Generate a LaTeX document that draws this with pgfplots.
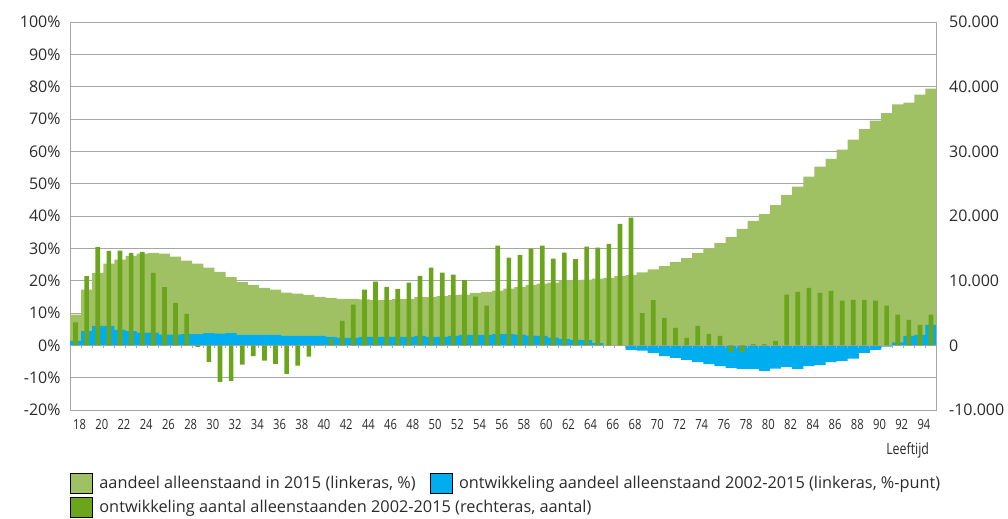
\documentclass[border=0pt]{standalone}
\usepackage{pgfplots}
\usepackage{pgfplotstable}
\pgfplotsset{compat=1.18}
\usepackage{fontspec}
\setmainfont{Open Sans}
\newfontfamily\narrowfont[FakeStretch=0.8]{Open Sans}
\definecolor{lgreen}{HTML}{A0C064}
\definecolor{dgreen}{HTML}{6BA51C}
\definecolor{cblue}{HTML}{00ADEF}
\definecolor{gridc}{HTML}{A6A6A6}
\definecolor{txt}{HTML}{2B2B2B}

\pgfplotstableread{
age share dev cnt
18 9.5 1.4 3550
19 17.2 4.4 10700
20 22.4 6.0 15200
21 25.3 6.0 14600
22 26.5 4.8 14650
23 27.7 4.4 14300
24 28.4 3.9 14450
25 28.6 3.9 11200
26 28.4 3.3 9000
27 27.4 3.3 6550
28 26.2 3.5 4850
29 25.3 3.5 -250
30 24.0 3.8 -2550
31 22.7 3.6 -5650
32 21.1 3.8 -5500
33 19.6 3.2 -3000
34 18.7 3.2 -1650
35 17.8 3.2 -2350
36 17.2 3.2 -2850
37 16.3 2.9 -4400
38 16.0 2.9 -3150
39 15.6 2.9 -1750
40 15.0 2.9 100
41 14.7 2.6 1000
42 14.4 2.3 3800
43 14.4 2.3 6300
44 14.2 2.6 8600
45 14.0 2.6 9850
46 14.0 2.6 9050
47 14.3 2.6 8750
48 14.3 2.6 9700
49 14.9 2.9 10750
50 14.9 2.6 12000
51 15.2 2.6 11250
52 15.5 2.9 10950
53 15.7 3.2 10100
54 16.2 3.2 7550
55 16.5 3.2 6150
56 16.9 3.5 15400
57 17.5 3.5 13550
58 18.0 3.3 14000
59 18.7 3.0 14950
60 19.1 2.9 15400
61 19.4 2.4 13400
62 20.0 1.9 14350
63 20.1 1.7 13350
64 20.3 1.6 15250
65 20.6 0.7 15100
66 20.9 0.1 15700
67 21.4 -0.2 18800
68 21.7 -1.4 19750
69 22.6 -1.6 5000
70 23.5 -2.3 7000
71 24.5 -3.3 4250
72 25.8 -3.9 2700
73 27.0 -4.5 1150
74 28.6 -5.2 3000
75 30.0 -5.8 1750
76 31.6 -6.4 1450
77 33.5 -7.0 -1000
78 36.0 -7.3 -1000
79 38.5 -7.3 200
80 40.6 -7.9 200
81 43.4 -7.2 650
82 46.5 -6.7 7830
83 49.1 -7.3 8280
84 52.2 -6.4 8880
85 55.3 -6.1 8130
86 57.7 -5.2 8430
87 60.5 -4.8 6900
88 63.6 -4.1 7030
89 66.9 -2.3 7030
90 69.5 -1.4 6900
91 71.8 -0.4 6130
92 74.5 0.9 4730
93 75.1 2.9 3930
94 77.5 3.2 3180
95 79.4 6.3 4730
}\data

\pgfplotsset{
  common/.style={
    at={(70bp,109bp)}, anchor=south west,
    scale only axis, width=866.6bp, height=388bp,
    xmin=17.5, xmax=95.5,
    /pgf/number format/assume math mode=true,
    axis line style={gridc, line width=0.9bp},
    ticklabel style={text=txt},
    yticklabel style={font=\fontsize{16bp}{18bp}\selectfont},
    ytick style={draw=none},
    legend image code/.code={\fill[##1] (0bp,-10bp) rectangle (22bp,10bp);},
    legend style={draw=none, fill=none, inner sep=0pt, outer sep=0pt,
      font=\fontsize{16.3bp}{18bp}\selectfont\color{txt},
      nodes={inner sep=0pt},
      /tikz/every odd column/.append style={column sep=7bp},
      /tikz/every even column/.append style={column sep=14bp}},
  }
}

\begin{document}
\begin{tikzpicture}
\begin{axis}[common,
  ymin=-20, ymax=100,
  ytick={-20,-10,...,100},
  yticklabel={\pgfmathprintnumber{\tick}\%},
  yticklabel style={xshift=-6bp},
  ymajorgrids, grid style={gridc, line width=0.9bp},
  xtick={18,20,...,94},
  xtick style={draw=none},
  major x tick style={draw=none},
  xticklabel style={font=\narrowfont\fontsize{14bp}{16bp}\selectfont, yshift=-6bp, xshift=4bp},
  xlabel={Leeftijd},
  xlabel style={at={(axis description cs:1,0)}, anchor=east, yshift=-40bp, xshift=-4bp,
    font=\narrowfont\fontsize{15.5bp}{17bp}\selectfont, text=txt},
  legend columns=2,
  legend style={at={(0,-0.1882)}, anchor=west},
  axis y line*=left, axis x line*=bottom,
]
\addplot[ybar, bar width=1, bar shift=0pt, fill=lgreen, draw=none, forget plot] table[x=age, y=share]{\data};
\addplot[ybar, bar width=1, bar shift=0pt, fill=cblue, draw=none, forget plot] table[x=age, y=dev]{\data};
\addlegendimage{fill=lgreen}
\addlegendentry{aandeel alleenstaand in 2015 (linkeras, \%)}
\addlegendimage{fill=cblue}
\addlegendentry{ontwikkeling aandeel alleenstaand 2002-2015 (linkeras, \%-punt)}
\end{axis}
\begin{axis}[common,
  ymin=-10000, ymax=50000,
  ytick={-10000,0,...,50000},
  scaled y ticks=false,
  yticklabel={\pgfmathprintnumber[1000 sep={.}]{\tick}},
  yticklabel style={xshift=6bp},
  axis y line*=right, axis x line*=bottom,
  axis x line shift=-64.67bp,
  xtick={18.5,19.5,...,94.5},
  xticklabels={},
  tick align=outside,
  major tick length=3bp,
  xtick style={gridc, line width=0.9bp},
  legend style={at={(0,-0.2500)}, anchor=west},
]
\addplot[ybar, bar width=0.42, bar shift=0pt, fill=dgreen, draw=none, forget plot] table[x=age, y=cnt]{\data};
\addlegendimage{fill=dgreen}
\addlegendentry{ontwikkeling aantal alleenstaanden 2002-2015 (rechteras, aantal)}
\end{axis}
\pgfresetboundingbox
\path[use as bounding box] (0,0) rectangle (1008bp,519bp);
\end{tikzpicture}
\end{document}
